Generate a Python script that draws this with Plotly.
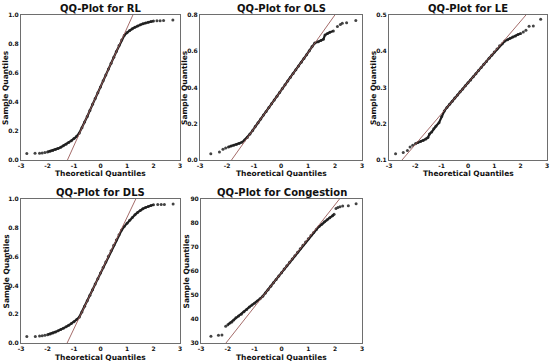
import plotly.graph_objects as go

# ---------------- data ----------------
titles = ["QQ-Plot for RL", "QQ-Plot for OLS", "QQ-Plot for LE",
          "QQ-Plot for DLS", "QQ-Plot for Congestion"]

rl_x = [-2.78, -2.47, -2.30, -2.20, -2.10, -2.00, -1.90, -1.80, -1.70, -1.60, -1.50, -1.40, -1.30, -1.20,
        -1.10, -1.00, -0.90, -0.80, -0.70, -0.60, -0.50, -0.40, -0.30, -0.20, -0.10, 0.00, 0.10, 0.20,
        0.30, 0.40, 0.50, 0.60, 0.70, 0.80, 0.90, 1.00, 1.10, 1.20, 1.30, 1.40, 1.50, 1.60, 1.70, 1.80,
        1.90, 2.00, 2.13, 2.25, 2.38, 2.73]
rl_y = [0.045, 0.046, 0.047, 0.049, 0.052, 0.056, 0.061, 0.066, 0.072, 0.080, 0.088, 0.098, 0.108, 0.120,
        0.133, 0.148, 0.163, 0.186, 0.222, 0.262, 0.300, 0.342, 0.384, 0.425, 0.463, 0.503, 0.546, 0.587,
        0.628, 0.667, 0.708, 0.748, 0.789, 0.827, 0.860, 0.878, 0.893, 0.905, 0.915, 0.924, 0.932, 0.939,
        0.945, 0.950, 0.955, 0.958, 0.960, 0.961, 0.962, 0.965]

ols_x = [-2.60, -2.28, -2.15, -2.05, -1.95, -1.85, -1.75, -1.65, -1.55, -1.45, -1.35, -1.25, -1.15, -1.05,
         -0.95, -0.85, -0.75, -0.65, -0.55, -0.45, -0.35, -0.25, -0.15, -0.05, 0.05, 0.15, 0.25, 0.35,
         0.45, 0.55, 0.65, 0.75, 0.85, 0.95, 1.05, 1.15, 1.25, 1.38, 1.48, 1.57, 1.63, 1.72, 1.81, 1.94,
         2.09, 2.20, 2.27, 2.43, 2.77]
ols_y = [0.035, 0.044, 0.060, 0.066, 0.072, 0.077, 0.082, 0.086, 0.091, 0.098, 0.110, 0.124, 0.143, 0.163,
         0.186, 0.206, 0.226, 0.248, 0.268, 0.290, 0.310, 0.331, 0.352, 0.373, 0.394, 0.415, 0.436, 0.456,
         0.477, 0.498, 0.519, 0.540, 0.560, 0.581, 0.603, 0.626, 0.645, 0.653, 0.660, 0.666, 0.690, 0.698,
         0.705, 0.712, 0.736, 0.748, 0.755, 0.757, 0.770]

le_x = [-2.75, -2.46, -2.30, -2.20, -2.10, -2.00, -1.90, -1.80, -1.70, -1.60, -1.52, -1.46, -1.38, -1.30,
        -1.22, -1.10, -1.00, -0.90, -0.80, -0.70, -0.60, -0.50, -0.40, -0.30, -0.20, -0.10, 0.00, 0.10,
        0.20, 0.30, 0.40, 0.50, 0.60, 0.70, 0.80, 0.90, 1.00, 1.10, 1.20, 1.30, 1.40, 1.50, 1.60, 1.70,
        1.80, 1.90, 2.00, 2.10, 2.20, 2.32, 2.48, 2.76]
le_y = [0.117, 0.121, 0.126, 0.136, 0.141, 0.145, 0.148, 0.151, 0.154, 0.158, 0.162, 0.172, 0.177, 0.186,
        0.193, 0.203, 0.220, 0.235, 0.245, 0.254, 0.262, 0.271, 0.279, 0.288, 0.296, 0.305, 0.313, 0.321,
        0.330, 0.338, 0.347, 0.355, 0.364, 0.372, 0.381, 0.389, 0.398, 0.406, 0.415, 0.421, 0.428, 0.432,
        0.436, 0.439, 0.442, 0.446, 0.449, 0.453, 0.458, 0.469, 0.470, 0.488]

dls_x = [-2.78, -2.46, -2.30, -2.20, -2.10, -2.00, -1.90, -1.80, -1.70, -1.60, -1.50, -1.40, -1.30, -1.20,
         -1.10, -1.00, -0.90, -0.80, -0.70, -0.60, -0.50, -0.40, -0.30, -0.20, -0.10, 0.00, 0.10, 0.20,
         0.30, 0.40, 0.50, 0.60, 0.70, 0.80, 0.90, 1.00, 1.10, 1.20, 1.30, 1.40, 1.50, 1.60, 1.70, 1.80,
         1.90, 2.00, 2.16, 2.29, 2.41, 2.74]
dls_y = [0.045, 0.046, 0.048, 0.050, 0.053, 0.058, 0.063, 0.070, 0.077, 0.085, 0.093, 0.102, 0.112, 0.123,
         0.135, 0.148, 0.163, 0.180, 0.216, 0.255, 0.293, 0.332, 0.370, 0.409, 0.447, 0.486, 0.525, 0.563,
         0.602, 0.640, 0.679, 0.716, 0.752, 0.784, 0.810, 0.832, 0.852, 0.872, 0.890, 0.907, 0.921, 0.932,
         0.941, 0.948, 0.954, 0.960, 0.961, 0.961, 0.961, 0.965]

con_x = [-2.63, -2.35, -2.22, -2.08, -2.00, -1.92, -1.85, -1.78, -1.70, -1.60, -1.50, -1.40, -1.30, -1.20,
         -1.10, -1.00, -0.90, -0.80, -0.70, -0.60, -0.50, -0.40, -0.30, -0.20, -0.10, 0.00, 0.10, 0.20,
         0.30, 0.40, 0.50, 0.60, 0.70, 0.80, 0.90, 1.00, 1.10, 1.20, 1.30, 1.40, 1.50, 1.60, 1.70, 1.80,
         1.90, 1.96, 2.03, 2.10, 2.18, 2.28, 2.49, 2.78]
con_y = [32.8, 33.2, 33.3, 37.0, 37.6, 38.3, 38.8, 39.6, 40.5, 41.2, 42.0, 43.0, 44.0, 45.0,
         45.8, 46.6, 47.5, 48.4, 49.5, 50.8, 52.2, 53.6, 55.1, 56.5, 57.9, 59.3, 60.8, 62.2,
         63.6, 65.0, 66.4, 67.8, 69.3, 70.7, 72.1, 73.4, 74.8, 76.0, 77.3, 78.5, 79.5, 80.5,
         81.4, 82.2, 83.0, 83.6, 86.0, 86.5, 86.8, 87.1, 87.2, 88.0]

# reference-line (intercept, slope)
line_params = [(0.505, 0.405), (0.383, 0.209), (0.313, 0.085), (0.486, 0.386), (59.35, 14.18)]

x_ticks = [-3, -2, -1, 0, 1, 2, 3]
y_ticks = [[0.0, 0.2, 0.4, 0.6, 0.8, 1.0],
           [0.0, 0.2, 0.4, 0.6, 0.8],
           [0.1, 0.2, 0.3, 0.4, 0.5],
           [0.0, 0.2, 0.4, 0.6, 0.8, 1.0],
           [30, 40, 50, 60, 70, 80, 90]]
y_ticktext = [["0.0", "0.2", "0.4", "0.6", "0.8", "1.0"],
              ["0.0", "0.2", "0.4", "0.6", "0.8"],
              ["0.1", "0.2", "0.3", "0.4", "0.5"],
              ["0.0", "0.2", "0.4", "0.6", "0.8", "1.0"],
              ["30", "40", "50", "60", "70", "80", "90"]]
y_ranges = [(0.0, 1.0), (0.0, 0.8), (0.1, 0.5), (0.0, 1.0), (30, 90)]

series = [(rl_x, rl_y), (ols_x, ols_y), (le_x, le_y), (dls_x, dls_y), (con_x, con_y)]

# ---------------- layout (pixel boxes) ----------------
W, H = 550, 363
boxes = [(21, 180, 15, 160), (200, 362, 15, 160), (389, 547, 15, 160),
         (21, 180, 199, 343), (201, 362, 199, 343)]
dense_limit = 2.0
font_family = "DejaVu Sans"

fig = go.Figure()
annotations = []
for i, ((xs, ys), (x0, x1, y0, y1)) in enumerate(zip(series, boxes)):
    n = i + 1
    xa = "x" if n == 1 else f"x{n}"
    ya = "y" if n == 1 else f"y{n}"
    bx = [a for a in xs if abs(a) <= dense_limit]
    by = [b for a, b in zip(xs, ys) if abs(a) <= dense_limit]
    fig.add_trace(go.Scatter(x=bx, y=by, mode="lines", xaxis=xa, yaxis=ya,
                             line=dict(color="#1a1a1a", width=2.2), showlegend=False,
                             hoverinfo="skip"))
    fig.add_trace(go.Scatter(x=xs, y=ys, mode="markers", xaxis=xa, yaxis=ya,
                             marker=dict(color="#222222", size=3, opacity=0.85, line=dict(width=0)),
                             showlegend=False))
    a, b = line_params[i]
    fig.add_trace(go.Scatter(x=[-3, 3], y=[a + b * -3, a + b * 3], mode="lines",
                             xaxis=xa, yaxis=ya, line=dict(color="#9a5a58", width=0.9),
                             showlegend=False, hoverinfo="skip"))

    dom_x = [x0 / W, x1 / W]
    dom_y = [1 - y1 / H, 1 - y0 / H]
    common = dict(showline=True, mirror=True, linecolor="#6e6e6e", linewidth=1,
                  showgrid=False, zeroline=False, ticks="", automargin=False,
                  tickfont=dict(family=font_family, size=6, color="#111", weight="bold"))
    fig.layout[f"xaxis{'' if n == 1 else n}"] = dict(
        domain=dom_x, range=[-3, 3], tickvals=x_ticks, ticktext=[str(t) for t in x_ticks],
        anchor=ya, **common)
    fig.layout[f"yaxis{'' if n == 1 else n}"] = dict(
        domain=dom_y, range=list(y_ranges[i]), tickvals=y_ticks[i], ticktext=y_ticktext[i],
        anchor=xa, **common)

    cx = (x0 + x1) / 2
    annotations.append(dict(text=titles[i], x=cx / W, y=1 - (y0 - 6.5) / H, xref="paper", yref="paper",
                            showarrow=False, xanchor="center", yanchor="middle",
                            font=dict(family=font_family, size=10, color="#111", weight="bold")))
    annotations.append(dict(text="Theoretical Quantiles", x=cx / W, y=1 - (y1 + 14) / H,
                            xref="paper", yref="paper", showarrow=False, xanchor="center",
                            yanchor="middle",
                            font=dict(family=font_family, size=7.5, color="#111", weight="bold")))
    annotations.append(dict(text="Sample Quantiles", x=(x0 - 15.5) / W, y=1 - ((y0 + y1) / 2) / H,
                            xref="paper", yref="paper", showarrow=False, xanchor="center",
                            yanchor="middle", textangle=-90,
                            font=dict(family=font_family, size=7.5, color="#111", weight="bold")))

fig.update_layout(width=W, height=H, margin=dict(l=0, r=0, t=0, b=0, autoexpand=False),
                  paper_bgcolor="white", plot_bgcolor="white", annotations=annotations)
fig.write_html("out.html", config={"displayModeBar": False},
               post_script="document.body.style.margin='0';document.body.style.overflow='hidden';")
